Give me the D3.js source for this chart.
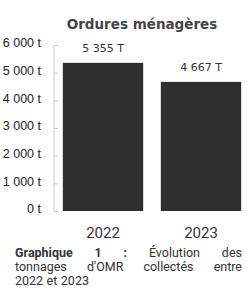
<!DOCTYPE html>
<html><head><meta charset="utf-8">
<script src="https://cdn.jsdelivr.net/npm/d3@7"></script>
<style>html,body{margin:0;padding:0;background:#fff;}svg{display:block;}</style>
</head><body>
<script>
const categories = ["2022", "2023"];
const values = [5355, 4667];
const valueLabels = ["5 355 T", "4 667 T"];
const tickValues = [0, 1000, 2000, 3000, 4000, 5000, 6000];
const tickLabels = ["0 t", "1 000 t", "2 000 t", "3 000 t", "4 000 t", "5 000 t", "6 000 t"];
const title = "Ordures ménagères";
const captionBold = "Graphique 1 :";
const captionLines = [["Graphique", "1", ":", "Évolution", "des"], ["tonnages", "d'OMR", "collectés", "entre"], ["2022", "et", "2023"]];

const W = 247, H = 304;
const svg = d3.select("body").append("svg").attr("width", W).attr("height", H);

const y = d3.scaleLinear().domain([0, 6000]).range([211, 45]);
const x = d3.scaleBand().domain(categories).range([54, 250]).paddingInner(0.18).paddingOuter(0.09);

// y axis
const yAxis = d3.axisLeft(y).tickValues(tickValues).tickSize(5).tickPadding(8)
  .tickFormat((d, i) => tickLabels[i]);
const gy = svg.append("g").attr("transform", "translate(54,0)").call(yAxis);
gy.select(".domain").attr("stroke", "#ccc").attr("d", "M0,45V211");
gy.selectAll(".tick line").attr("stroke", "#ccc").attr("x1", 0).attr("x2", 4);
gy.selectAll(".tick text").attr("fill", "#222").attr("font-family", "Liberation Sans, Arial, sans-serif")
  .attr("font-size", 12.5).attr("dy", "0.15em");

// bars
svg.selectAll("rect.bar").data(values).join("rect").attr("class", "bar")
  .attr("x", (d, i) => x(categories[i])).attr("width", x.bandwidth())
  .attr("y", d => y(d)).attr("height", d => y(0) - y(d)).attr("fill", "#2f2f2f");

// value labels
svg.selectAll("text.val").data(values).join("text").attr("class", "val")
  .attr("x", (d, i) => x(categories[i]) + x.bandwidth() / 2)
  .attr("y", d => y(d) - 11).attr("text-anchor", "middle")
  .attr("font-family", "DejaVu Sans, sans-serif").attr("font-size", 11).attr("fill", "#333")
  .text((d, i) => valueLabels[i]);

// x labels
svg.selectAll("text.cat").data(categories).join("text").attr("class", "cat")
  .attr("x", d => x(d) + x.bandwidth() / 2).attr("y", 238).attr("text-anchor", "middle")
  .attr("font-family", "Roboto, sans-serif").attr("font-size", 15).attr("fill", "#333").text(d => d);

// title
svg.append("text").attr("x", 142).attr("y", 29).attr("text-anchor", "middle")
  .attr("font-family", "DejaVu Sans, sans-serif").attr("font-weight", "bold").attr("font-size", 13.5)
  .attr("fill", "#444").text(title);

// caption, justified
const capLeft = 15, capRight = 242, capY = [257, 271, 285];
const boldWords = captionBold.split(" ");
captionLines.forEach((words, li) => {
  const items = words.map((w, wi) => {
    const t = svg.append("text").attr("y", capY[li])
      .attr("font-family", "Roboto, sans-serif").attr("font-size", 12.5).attr("fill", "#333")
      .attr("font-weight", (li === 0 && wi < boldWords.length) ? "bold" : "normal").text(w);
    return {t, w: t.node().getComputedTextLength()};
  });
  const total = d3.sum(items, d => d.w);
  const justify = li < captionLines.length - 1;
  const gap = justify ? (capRight - capLeft - total) / (items.length - 1) : 3.5;
  let cx = capLeft;
  items.forEach(it => { it.t.attr("x", cx); cx += it.w + gap; });
});
</script>
</body></html>
